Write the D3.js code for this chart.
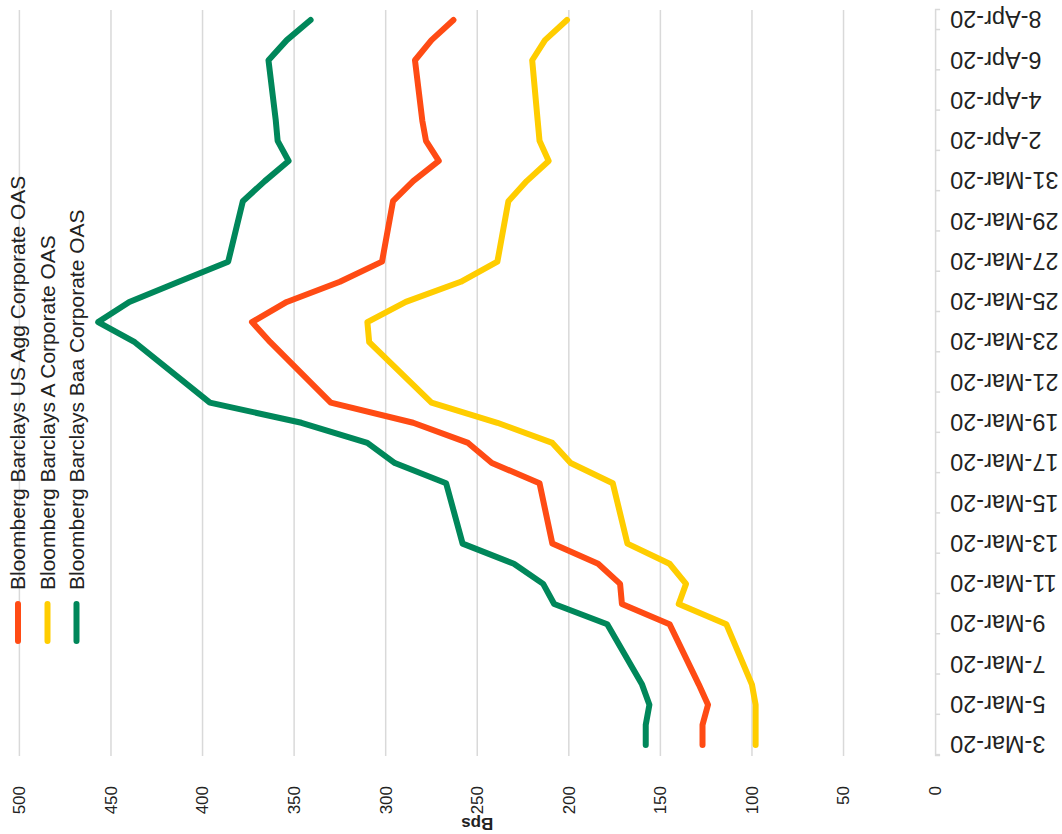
<!DOCTYPE html>
<html>
<head>
<meta charset="utf-8">
<script src="https://cdn.jsdelivr.net/npm/d3@7"></script>
<style>
  html, body { margin: 0; padding: 0; background: #ffffff; }
  svg { display: block; font-family: "Liberation Sans", Arial, sans-serif; }
</style>
</head>
<body>
<svg id="chart" width="1062" height="834"></svg>
<script>
// ---- data ----
const dates = ["3-Mar-20","4-Mar-20","5-Mar-20","6-Mar-20","9-Mar-20","10-Mar-20","11-Mar-20","12-Mar-20","13-Mar-20",
  "16-Mar-20","17-Mar-20","18-Mar-20","19-Mar-20","20-Mar-20","23-Mar-20","24-Mar-20","25-Mar-20","26-Mar-20","27-Mar-20",
  "30-Mar-20","31-Mar-20","1-Apr-20","2-Apr-20","3-Apr-20","6-Apr-20","7-Apr-20","8-Apr-20"];
const usAgg = [127,127,124,129,145,171,172,184,209,216,242,255,285,330,363,373,354,325,302,296,285,271,278,280,284,275,263];
const aRated = [98,98,98,100,114,140,136,145,168,176,199,209,239,275,309,310,289,259,239,233,223,211,216,217,220,213,201];
const baaRated = [158,158,156,160,179,208,214,230,258,267,295,310,346,396,437,457,440,413,386,378,366,353,359,360,364,354,341];
const seriesNames = ["Bloomberg Barclays US Agg Corporate OAS","Bloomberg Barclays A Corporate OAS","Bloomberg Barclays Baa Corporate OAS"];
const seriesColors = ["#ff4b14","#ffcd00","#00875a"];
const valueTicks = [0,50,100,150,200,250,300,350,400,450,500];
const dateTickLabels = ["3-Mar-20","5-Mar-20","7-Mar-20","9-Mar-20","11-Mar-20","13-Mar-20","15-Mar-20","17-Mar-20","19-Mar-20",
  "21-Mar-20","23-Mar-20","25-Mar-20","27-Mar-20","29-Mar-20","31-Mar-20","2-Apr-20","4-Apr-20","6-Apr-20","8-Apr-20"];
const axisTitle = "Bps";

// ---- setup: chart drawn in an upright frame (834 x 1062) then rotated 90deg CCW ----
const parse = d3.utcParse("%d-%b-%y");
const DAY = 864e5;
const start = parse("3-Mar-20");
const svg = d3.select("#chart");
const g = svg.append("g").attr("transform", "translate(0,834) rotate(-90)");

const x = d3.scaleUtc()
  .domain([new Date(+start - 0.55 * DAY), new Date(+parse("8-Apr-20") + 0.5 * DAY)])
  .range([77.9, 824.1]);
const y = d3.scaleLinear().domain([0, 500]).range([935.1, 19.4]);

// gridlines
g.append("g").selectAll("line")
  .data(valueTicks.filter(v => v > 0))
  .join("line")
  .attr("x1", x.range()[0]).attr("x2", x.range()[1])
  .attr("y1", d => y(d)).attr("y2", d => y(d))
  .attr("stroke", "#d9d9d9").attr("stroke-width", 1.5);

// date axis: tick marks between day pairs
const tickDates = dateTickLabels.map(s => new Date(+parse(s) - 0.5 * DAY));
const xTickAxis = d3.axisBottom(x).tickValues(tickDates).tickSize(5).tickFormat("");
const gxt = g.append("g").attr("transform", `translate(0,${y(0)})`).call(xTickAxis);
gxt.select(".domain").attr("stroke", "#d9d9d9").attr("stroke-width", 1.5);
gxt.selectAll(".tick line").attr("stroke", "#d9d9d9").attr("stroke-width", 1.5);

// date axis labels
const xLabelAxis = d3.axisBottom(x).tickValues(dateTickLabels.map(parse)).tickSize(0)
  .tickFormat(d => d3.utcFormat("%-d-%b-%y")(d));
const gxl = g.append("g").attr("transform", `translate(0,${y(0)})`).call(xLabelAxis);
gxl.select(".domain").remove();
gxl.selectAll(".tick text")
  .attr("transform", "rotate(-90)")
  .attr("x", -15).attr("y", 0).attr("dy", "0.35em")
  .attr("text-anchor", "end")
  .attr("font-size", 23.5)
  .attr("font-family", "'Liberation Sans', Arial, sans-serif")
  .attr("fill", "#222");

// value axis labels
const yAxis = d3.axisLeft(y).tickValues(valueTicks).tickSize(0).tickPadding(x.range()[0] - 48);
const gy = g.append("g").attr("transform", `translate(${x.range()[0]},0)`).call(yAxis);
gy.select(".domain").remove();
gy.selectAll(".tick text")
  .attr("font-size", 17)
  .attr("font-family", "'Liberation Sans', Arial, sans-serif")
  .attr("fill", "#222");

// axis title
g.append("text")
  .attr("transform", `translate(10,${(y(0) + y(500)) / 2}) rotate(-90)`)
  .attr("text-anchor", "middle").attr("dy", "0.35em")
  .attr("font-size", 17).attr("font-weight", "bold").attr("fill", "#222")
  .text(axisTitle);

// lines
const series = [usAgg, aRated, baaRated];
const line = d3.line().x((d, i) => x(parse(dates[i]))).y(d => y(d));
g.append("g").selectAll("path")
  .data(series)
  .join("path")
  .attr("d", d => line(d))
  .attr("fill", "none")
  .attr("stroke", (d, i) => seriesColors[i])
  .attr("stroke-width", 6)
  .attr("stroke-linejoin", "round")
  .attr("stroke-linecap", "round");

// legend
const legendRows = [18, 47.5, 76.5];
const lg = g.append("g").selectAll("g").data(seriesNames).join("g")
  .attr("transform", (d, i) => `translate(0,${legendRows[i]})`);
lg.append("line")
  .attr("x1", 193).attr("x2", 230)
  .attr("stroke", (d, i) => seriesColors[i])
  .attr("stroke-width", 6).attr("stroke-linecap", "round");
lg.append("text")
  .attr("x", 244).attr("dy", "0.35em")
  .attr("font-size", 21).attr("fill", "#222")
  .text(d => d);
</script>
</body>
</html>
